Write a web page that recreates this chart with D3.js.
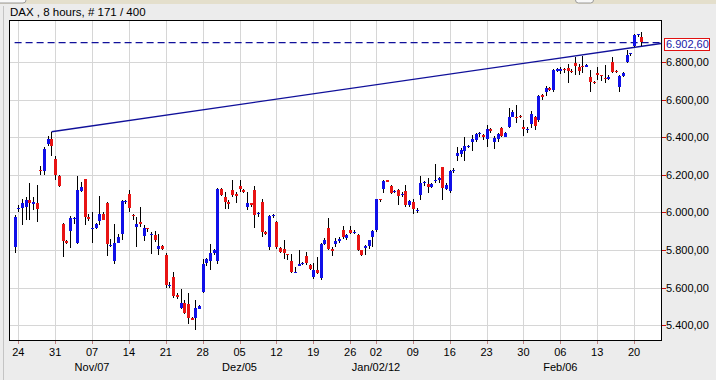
<!DOCTYPE html>
<html><head><meta charset="utf-8">
<script src="https://cdn.jsdelivr.net/npm/d3@7"></script>
<style>html,body{margin:0;padding:0;background:#ececec;}svg{display:block;}</style>
</head><body>
<svg id="chart" width="716" height="380"></svg>
<script>
// ---------- DATA (8-hour bars, DAX) ----------
const title = "DAX , 8 hours, # 171 / 400";
const openVals = [
5817,6015,6026,6030,6065,6044,6051,6225,6220,6362,
6388,6282,6193,5941,5850,5902,5965,5838,6115,6177,
5978,5918,5915,5955,5994,6051,5826,5737,5838,5888,
6060,6097,5987,5923,5950,5874,5918,5880,5879,5805,
5821,5773,5612,5657,5560,5492,5519,5515,5441,5441,
5488,5577,5728,5737,5785,5746,6127,6080,6054,6119,
6096,6140,6122,6026,6048,6119,5990,6057,5897,5813,
5986,5950,5813,5805,5778,5743,5684,5720,5724,5767,
5723,5654,5693,5649,5830,5920,5808,5830,5849,5906,
5861,5906,5896,5879,5799,5808,5821,5870,5902,6070,
6128,6170,6140,6105,6122,6093,6113,6039,6057,6012,
6092,6158,6151,6133,6165,6168,6239,6122,6115,6220,
6296,6310,6328,6350,6371,6385,6418,6411,6388,6442,
6371,6388,6447,6403,6456,6509,6510,6512,6456,6440,
6470,6510,6491,6625,6637,6660,6651,6749,6752,6765,
6766,6752,6793,6772,6779,6778,6722,6694,6743,6733,
6713,6712,6802,6752,6669,6725,6802,6843,6885,6944,
6931];
const closeVals = [
5977,6022,6051,6065,6051,6056,6019,6218,6335,6388,
6349,6199,6140,5849,5840,5971,5970,6119,6136,5977,
5968,5920,5938,5994,5963,5835,5828,5835,5870,6062,
6062,6020,5985,5941,5940,5915,5916,5886,5852,5821,
5803,5613,5614,5554,5548,5519,5466,5441,5432,5492,
5502,5725,5750,5782,5803,6127,6096,6051,6045,6092,
6087,6122,6110,6048,6039,5986,5997,5897,5884,5980,
5988,5817,5790,5782,5775,5684,5686,5728,5731,5728,
5702,5693,5679,5830,5853,5808,5796,5847,5861,5867,
5879,5892,5898,5799,5773,5820,5853,5902,6069,6068,
6168,6162,6101,6112,6092,6100,6039,6060,6021,6015,
6154,6163,6136,6151,6170,6181,6128,6145,6220,6225,
6314,6332,6353,6352,6388,6417,6420,6399,6442,6430,
6394,6417,6406,6424,6509,6536,6508,6505,6447,6442,
6525,6460,6619,6612,6660,6652,6757,6762,6762,6763,
6749,6745,6775,6749,6777,6786,6695,6690,6731,6731,
6712,6722,6749,6746,6725,6743,6837,6845,6944,6946,
6902.6];
const highVals = [
5985,6040,6069,6080,6158,6080,6145,6245,6348,6406,
6429,6301,6199,5945,5855,5980,5977,6193,6163,6180,
5991,6000,5945,6087,6003,6056,5860,5938,5888,6065,
6068,6119,5990,5978,6030,5932,5920,5897,5902,5888,
5826,5782,5630,5684,5572,5595,5533,5572,5444,5533,
5510,5755,5758,5831,5808,6130,6130,6110,6065,6172,
6110,6172,6127,6110,6050,6140,6003,6074,5902,5985,
5990,5955,5817,5856,5780,5778,5710,5799,5737,5790,
5728,5732,5764,5835,5862,5968,5817,5862,5867,5927,
5888,5927,5909,5883,5803,5826,5856,5906,6074,6072,
6175,6175,6145,6119,6125,6110,6145,6065,6074,6026,
6193,6165,6181,6158,6257,6190,6243,6154,6225,6234,
6346,6341,6399,6358,6411,6424,6429,6417,6465,6447,
6406,6424,6456,6429,6553,6545,6571,6518,6491,6456,
6540,6515,6625,6630,6670,6665,6760,6768,6775,6768,
6790,6760,6828,6790,6832,6790,6758,6700,6775,6733,
6784,6728,6825,6755,6730,6748,6864,6848,6950,6950,
6961];
const lowVals = [
5782,6000,5932,5959,5959,6012,5950,6198,6198,6353,
6301,6172,6136,5764,5830,5813,5941,5831,6110,5932,
5955,5835,5910,5932,5959,5769,5815,5725,5835,5852,
6045,6000,5960,5817,5923,5849,5898,5781,5843,5773,
5799,5599,5600,5547,5542,5489,5462,5405,5427,5373,
5485,5574,5714,5693,5773,5725,6085,6016,6016,6080,
6051,6110,6101,6012,6030,5920,5977,5870,5879,5803,
5968,5808,5785,5750,5746,5679,5682,5715,5719,5720,
5696,5645,5675,5640,5826,5803,5767,5817,5838,5861,
5856,5888,5885,5795,5767,5773,5808,5817,5897,6058,
6104,6160,6097,6101,6039,6083,6030,6030,5991,5998,
6065,6140,6104,6128,6154,6158,6065,6119,6101,6211,
6275,6296,6275,6340,6328,6376,6402,6385,6346,6420,
6335,6376,6399,6399,6447,6505,6477,6500,6406,6424,
6447,6440,6480,6600,6620,6645,6640,6745,6735,6740,
6690,6740,6730,6731,6740,6775,6642,6685,6705,6700,
6690,6705,6743,6740,6642,6720,6795,6830,6880,6930,
6885];
// week ticks: bar index of the first bar of each week
const tickBars   = [1,11,21,31,41,51,61,71,81,91,98,108,118,128,138,148,158,168];
const tickDays   = ["24","31","07","14","21","28","05","12","19","26","02","09","16","23","30","06","13","20"];
const monthBars  = [21,61,98,148];
const monthNames = ["Nov/07","Dez/05","Jan/02/12","Feb/06"];
const priceTicks = [5400,5600,5800,6000,6200,6400,6600,6800];
const lastPrice  = 6902.60;
// trend line anchors (bar index, value)
const trendBars = [10,152];
const trendVals = [6429,6832];

// ---------- DRAW ----------
const svg = d3.select("#chart");
const L = 9, R = 661, T = 20, B = 340;
const bars = d3.range(openVals.length);
const x = d3.scaleLinear().domain([-1.52, 175.3]).range([L, R]);
const y = d3.scaleLinear().domain([5322, 7023]).range([B, T]);
const de = d3.formatLocale({decimal:",", thousands:".", grouping:[3], currency:["","€"]});
const fmt = de.format(",.2f");
const FONT = "'Liberation Sans', Arial, sans-serif";

// window chrome
svg.append("rect").attr("x",0).attr("y",0).attr("width",716).attr("height",380).attr("fill","#ececec");
svg.append("rect").attr("x",0).attr("y",0).attr("width",716).attr("height",4).attr("fill","#e4dfcc");
svg.append("rect").attr("x",-6).attr("y",-6).attr("width",32).attr("height",9).attr("rx",3)
  .attr("fill","#f8f8f8").attr("stroke","#9a9a9a");
svg.append("rect").attr("x",575.5).attr("y",-6).attr("width",18).attr("height",9).attr("rx",3)
  .attr("fill","#f8f8f8").attr("stroke","#9a9a9a");
svg.append("line").attr("x1",3.5).attr("x2",3.5).attr("y1",6).attr("y2",380).attr("stroke","#c4c4c4");

svg.append("text").attr("x",10).attr("y",16).attr("font-family",FONT).attr("font-size",11.5)
  .attr("fill","#000").text(title);

// plot area
svg.append("rect").attr("x",L).attr("y",T).attr("width",R-L).attr("height",B-T).attr("fill","#fff");

const grid = svg.append("g").attr("shape-rendering","crispEdges").attr("stroke","#d6d6d6").attr("stroke-width",1);
grid.selectAll("line.v").data(tickBars).join("line")
  .attr("x1",d=>Math.round(x(d))+0.5).attr("x2",d=>Math.round(x(d))+0.5).attr("y1",T).attr("y2",B);
grid.selectAll("line.h").data(priceTicks).join("line")
  .attr("x1",L).attr("x2",R).attr("y1",d=>Math.round(y(d))+0.5).attr("y2",d=>Math.round(y(d))+0.5);

// last price dashed line
svg.append("line").attr("x1",x(0)).attr("x2",R).attr("y1",y(lastPrice)).attr("y2",y(lastPrice))
  .attr("stroke","#10109a").attr("stroke-width",1.2).attr("stroke-dasharray","7,4");

// trend line
const slope = (trendVals[1]-trendVals[0])/(trendBars[1]-trendBars[0]);
const xEnd = x.domain()[1];
svg.append("line")
  .attr("x1",x(trendBars[0])).attr("y1",y(trendVals[0]))
  .attr("x2",x(xEnd)).attr("y2",y(trendVals[0]+slope*(xEnd-trendBars[0])))
  .attr("stroke","#10109a").attr("stroke-width",1.3);

// candles
const cg = svg.append("g").attr("shape-rendering","crispEdges");
cg.selectAll("line.wick").data(bars).join("line")
  .attr("x1",i=>Math.round(x(i))+0.5).attr("x2",i=>Math.round(x(i))+0.5)
  .attr("y1",i=>y(highVals[i])).attr("y2",i=>y(lowVals[i]))
  .attr("stroke","#000").attr("stroke-width",1);
cg.selectAll("rect.body").data(bars).join("rect")
  .attr("x",i=>Math.round(x(i))-1).attr("width",3)
  .attr("y",i=>Math.round(y(Math.max(openVals[i],closeVals[i]))))
  .attr("height",i=>Math.max(1,Math.round(Math.abs(y(openVals[i])-y(closeVals[i])))))
  .attr("fill",i=>closeVals[i]>=openVals[i] ? "#1010e8" : "#e81414");

// frame
svg.append("rect").attr("x",L+0.5).attr("y",T+0.5).attr("width",R-L).attr("height",B-T)
  .attr("fill","none").attr("stroke","#000").attr("stroke-width",1).attr("shape-rendering","crispEdges");

// y axis (right)
const ya = svg.append("g");
ya.selectAll("line").data(priceTicks).join("line")
  .attr("x1",R+1).attr("x2",R+5).attr("y1",d=>Math.round(y(d))+0.5).attr("y2",d=>Math.round(y(d))+0.5)
  .attr("stroke","#c81010").attr("shape-rendering","crispEdges");
ya.selectAll("text").data(priceTicks).join("text")
  .attr("x",R+5).attr("y",d=>y(d)).attr("dy","0.36em")
  .attr("font-family",FONT).attr("font-size",11).attr("fill","#000").text(d=>fmt(d));

// last price box
const lp = svg.append("g");
lp.append("rect").attr("x",664.5).attr("y",Math.round(y(lastPrice))-4.5).attr("width",45).attr("height",12)
  .attr("fill","#fff").attr("stroke","#e01010").attr("shape-rendering","crispEdges");
lp.append("text").attr("x",666).attr("y",y(lastPrice)+1.5).attr("dy","0.36em")
  .attr("font-family",FONT).attr("font-size",11).attr("fill","#1a1aa8").text(fmt(lastPrice));

// x axis
const xa = svg.append("g");
xa.selectAll("line").data(tickBars).join("line")
  .attr("x1",d=>Math.round(x(d))+0.5).attr("x2",d=>Math.round(x(d))+0.5).attr("y1",B+1).attr("y2",B+4)
  .attr("stroke","#c08080").attr("shape-rendering","crispEdges");
xa.selectAll("text.day").data(tickBars).join("text")
  .attr("x",d=>x(d)).attr("y",356).attr("text-anchor","middle")
  .attr("font-family",FONT).attr("font-size",11).attr("fill","#000")
  .text((d,i)=>tickDays[i]);
xa.selectAll("text.mon").data(monthBars).join("text")
  .attr("x",d=>x(d)).attr("y",371).attr("text-anchor","middle")
  .attr("font-family",FONT).attr("font-size",11).attr("fill","#000")
  .text((d,i)=>monthNames[i]);
</script>
</body></html>
